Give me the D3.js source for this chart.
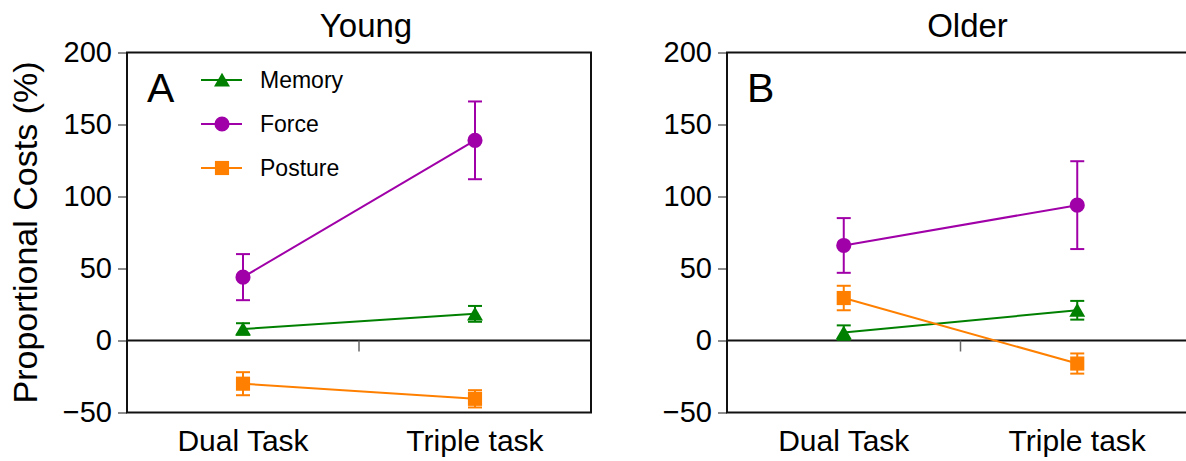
<!DOCTYPE html>
<html>
<head>
<meta charset="utf-8">
<script src="https://cdn.jsdelivr.net/npm/d3@7"></script>
<style>
  body { margin: 0; background: #fff; }
  text { font-family: "Liberation Sans", Arial, Helvetica, sans-serif; fill: #000; }
</style>
</head>
<body>
<div id="plot"></div>
<script>
// categories and tick values
var categories = ["Dual Task", "Triple task"];
var yTicks = [-50, 0, 50, 100, 150, 200];
var seriesNames = ["Memory", "Force", "Posture"];

// Young (panel A) means and error bars
var youngMemory = [8, 18.5];
var youngMemoryErr = [4, 5.5];
var youngForce = [44, 139];
var youngForceErr = [16, 27];
var youngPosture = [-30, -40.5];
var youngPostureErr = [8, 6];

// Older (panel B) means and error bars
var olderMemory = [5.5, 21];
var olderMemoryErr = [5, 6.5];
var olderForce = [66, 94];
var olderForceErr = [19, 30.5];
var olderPosture = [29.5, -16];
var olderPostureErr = [8.5, 7];

var colors = { Memory: "#008000", Force: "#a000a8", Posture: "#ff8000" };
var shapes = { Memory: d3.symbolTriangle, Force: d3.symbolCircle, Posture: d3.symbolSquare };
var sizes = { Memory: 110, Force: 180, Posture: 200 };
// triangles are drawn around their centroid, nudge down so the box is centred
var nudge = { Memory: 2, Force: 0, Posture: 0 };

var svgWidth = 1186;
var svgHeight = 461;

var svg = d3.select("#plot")
  .append("svg")
  .attr("width", svgWidth)
  .attr("height", svgHeight);

var top_ = 52.5, bottom_ = 412.5;

var panels = [
  { title: "Young", letter: "A", left: 127, right: 591, legend: true,
    data: { Memory: [youngMemory, youngMemoryErr], Force: [youngForce, youngForceErr], Posture: [youngPosture, youngPostureErr] } },
  { title: "Older", letter: "B", left: 727, right: 1194, legend: false,
    data: { Memory: [olderMemory, olderMemoryErr], Force: [olderForce, olderForceErr], Posture: [olderPosture, olderPostureErr] } }
];

var y = d3.scaleLinear().domain([-50, 200]).range([bottom_, top_]);

panels.forEach(function(p) {
  var g = svg.append("g");

  var x = d3.scalePoint()
    .domain(categories)
    .range([p.left, p.right])
    .padding(0.5);

  // y axis ticks and labels
  var leftAxis = d3.axisLeft(y).tickValues(yTicks).tickSize(9).tickPadding(6).tickFormat(d3.format("d"));
  var yAxis = g.append("g")
    .attr("transform", `translate(${p.left}, 0)`)
    .call(leftAxis);
  yAxis.select(".domain").remove();
  yAxis.selectAll("line").attr("stroke", "#666").attr("stroke-width", 1.5);
  yAxis.selectAll("text").attr("font-size", "29px").attr("fill", "#000");

  // frame
  g.append("rect")
    .attr("x", p.left)
    .attr("y", top_)
    .attr("width", p.right - p.left)
    .attr("height", bottom_ - top_)
    .attr("fill", "none")
    .attr("stroke", "#111")
    .attr("stroke-width", 2);

  // zero line with middle tick
  g.append("line")
    .attr("x1", p.left).attr("x2", p.right)
    .attr("y1", y(0)).attr("y2", y(0))
    .attr("stroke", "#111").attr("stroke-width", 2);
  var mid = (x(categories[0]) + x(categories[1])) / 2;
  g.append("line")
    .attr("x1", mid).attr("x2", mid)
    .attr("y1", y(0)).attr("y2", y(0) + 11)
    .attr("stroke", "#666").attr("stroke-width", 1.5);

  // category labels
  g.selectAll(".xlabel")
    .data(categories)
    .enter()
    .append("text")
    .attr("class", "xlabel")
    .attr("x", d => x(d))
    .attr("y", 451)
    .attr("text-anchor", "middle")
    .attr("font-size", "30px")
    .text(d => d);

  // title
  g.append("text")
    .attr("x", (p.left + p.right) / 2 + 7)
    .attr("y", 37)
    .attr("text-anchor", "middle")
    .attr("font-size", "33px")
    .text(p.title);

  // panel letter
  g.append("text")
    .attr("x", p.left + 20)
    .attr("y", 102)
    .attr("font-size", "41px")
    .text(p.letter);

  // series
  seriesNames.forEach(function(name) {
    var vals = p.data[name][0];
    var errs = p.data[name][1];
    var pts = categories.map((c, i) => ({ c: c, v: vals[i], e: errs[i] }));
    var col = colors[name];

    g.append("path")
      .datum(pts)
      .attr("fill", "none")
      .attr("stroke", col)
      .attr("stroke-width", 2)
      .attr("d", d3.line().x(d => x(d.c)).y(d => y(d.v)));

    var eb = g.selectAll(".err-" + name)
      .data(pts)
      .enter()
      .append("g")
      .attr("stroke", col)
      .attr("stroke-width", 2);
    eb.append("line")
      .attr("x1", d => x(d.c)).attr("x2", d => x(d.c))
      .attr("y1", d => y(d.v + d.e)).attr("y2", d => y(d.v - d.e));
    eb.append("line")
      .attr("x1", d => x(d.c) - 7).attr("x2", d => x(d.c) + 7)
      .attr("y1", d => y(d.v + d.e)).attr("y2", d => y(d.v + d.e));
    eb.append("line")
      .attr("x1", d => x(d.c) - 7).attr("x2", d => x(d.c) + 7)
      .attr("y1", d => y(d.v - d.e)).attr("y2", d => y(d.v - d.e));

    g.selectAll(".mk-" + name)
      .data(pts)
      .enter()
      .append("path")
      .attr("transform", d => `translate(${x(d.c)}, ${y(d.v) + nudge[name]})`)
      .attr("d", d3.symbol().type(shapes[name]).size(sizes[name]))
      .attr("fill", col);
  });

  // legend
  if (p.legend) {
    var lg = g.append("g");
    seriesNames.forEach(function(name, i) {
      var ly = 80 + i * 44;
      lg.append("line")
        .attr("x1", 201).attr("x2", 242)
        .attr("y1", ly).attr("y2", ly)
        .attr("stroke", colors[name]).attr("stroke-width", 2);
      lg.append("path")
        .attr("transform", `translate(222, ${ly + nudge[name]})`)
        .attr("d", d3.symbol().type(shapes[name]).size(sizes[name]))
        .attr("fill", colors[name]);
      lg.append("text")
        .attr("x", 260)
        .attr("y", ly + 8)
        .attr("font-size", "23px")
        .text(name);
    });
  }
});

// y axis label
svg.append("text")
  .attr("transform", `translate(37, ${(top_ + bottom_) / 2}) rotate(-90)`)
  .attr("text-anchor", "middle")
  .attr("font-size", "34px")
  .text("Proportional Costs (%)");
</script>
</body>
</html>
